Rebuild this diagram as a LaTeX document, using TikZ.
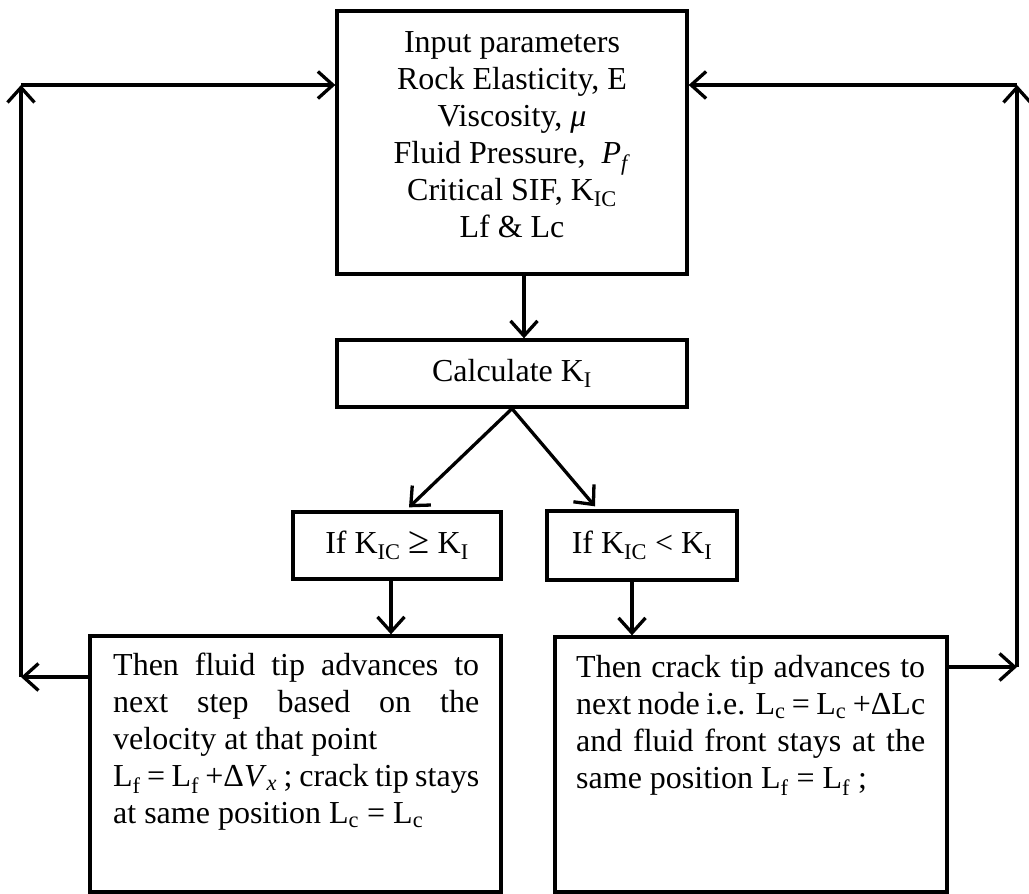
\documentclass[tikz,border=0pt]{standalone}
\usepackage{fontspec}
\usepackage{graphicx}
\setmainfont{Liberation Serif}
\usetikzlibrary{arrows.meta,calc}
\newcommand{\sbs}[1]{\textsubscript{#1}}
\tikzset{
  box/.style={draw, line width=3.3pt, inner sep=0pt, font=\fontsize{32}{37}\selectfont},
  arr/.style={line width=3.3pt, -{Straight Barb[length=15pt,width=27pt]}},
  txt/.style={inner sep=0pt, font=\fontsize{32}{37}\selectfont},
}
\begin{document}
\begin{tikzpicture}[x=1pt,y=-1pt]
\useasboundingbox (0,0) rectangle (1029,894);
% boxes
\node[box, minimum width=350pt, minimum height=263pt] (inp) at (512,142.5) {};
\node[txt, align=center] (inptxt) at (512,134.5) {Input parameters\\Rock Elasticity, E\\Viscosity, \textit{μ}\\Fluid Pressure,\ \ \textit{P}\textsubscript{\textit{f}}\\Critical SIF, K\sbs{IC}\\Lf \& Lc};
\node[box, minimum width=350pt, minimum height=67pt] (calc) at (512,373.5) {Calculate K\sbs{I}};
\node[box, minimum width=208pt, minimum height=67pt] (lif) at (397,545.5) {If K\sbs{IC} \scalebox{1.2}{≥} K\sbs{I}};
\node[box, minimum width=190pt, minimum height=69pt] (rif) at (642,545.5) {If K\sbs{IC} < K\sbs{I}};
\node[box, minimum width=411pt, minimum height=256pt] (lbig) at (295.5,764) {};
\node[box, minimum width=392pt, minimum height=255pt] (rbig) at (751,764.5) {};
\node[txt, anchor=north west, align=left] (ltxt) at (113,653) {%
\makebox[366pt][s]{Then fluid tip advances to}\\
\makebox[366pt][s]{next step based on the}\\
velocity at that point\\
\makebox[366pt][s]{L\sbs{f} = L\sbs{f} +Δ\textit{V}\textsubscript{\textit{x}} ; crack tip stays}\\
at same position L\sbs{c} = L\sbs{c}};
\node[txt, anchor=north west, align=left] (rtxt) at (576,655) {%
\makebox[349pt][s]{Then crack tip advances to}\\
\makebox[349pt][s]{next node i.e. L\sbs{c} = L\sbs{c} +ΔLc}\\
\makebox[349pt][s]{and fluid front stays at the}\\
same position L\sbs{f} = L\sbs{f} ;};
% corner coordinates of the feedback loops
\coordinate (lb) at (21,677);
\coordinate (lt) at (21,85);
\coordinate (rb) at (1017,667);
\coordinate (rt) at (1017,85);
% connectors
\draw[arr] ([xshift=12pt]inp.south) -- ([xshift=12pt]inp.south |- calc.north);
\draw[arr] (calc.south) -- ([xshift=12pt,yshift=3pt]lif.north);
\draw[arr] (calc.south) -- ([xshift=-47pt,yshift=3pt]rif.north);
\draw[arr] ([xshift=-6pt]lif.south) -- ([xshift=-6pt]lif.south |- lbig.north);
\draw[arr] ([xshift=-10pt]rif.south) -- ([xshift=-10pt]rif.south |- rbig.north);
\draw[arr] (lbig.west |- lb) -- (lb);
\draw[arr] (lb) -- (lt);
\draw[arr] (lt) -- (inp.west |- lt);
\draw[arr] (rbig.east |- rb) -- (rb);
\draw[arr] (rb) -- (rt);
\draw[arr] (rt) -- (inp.east |- rt);
\end{tikzpicture}
\end{document}
